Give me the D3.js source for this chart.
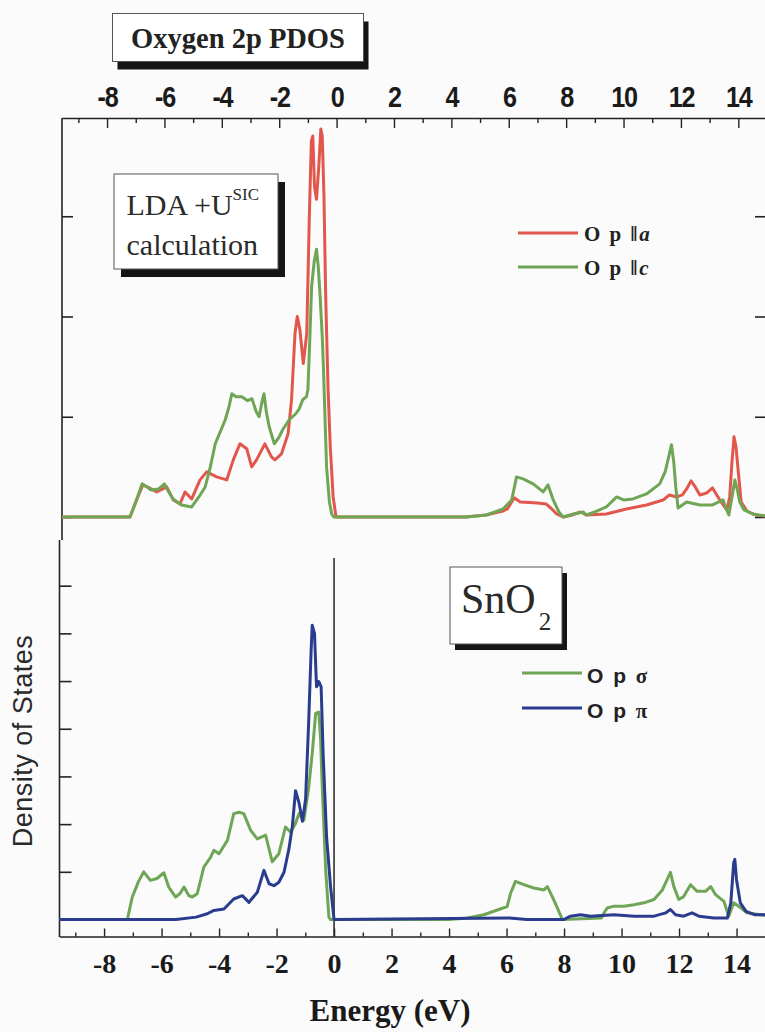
<!DOCTYPE html>
<html>
<head>
<meta charset="utf-8">
<script src="https://cdn.jsdelivr.net/npm/d3@7"></script>
<style>
  html, body { margin: 0; padding: 0; background: #fbfbfc; }
  svg { display: block; }
</style>
</head>
<body>
<svg id="chart" width="765" height="1032"></svg>
<script>
// ---------------- DATA ----------------
// x axis ticks
const xTickValues = d3.range(-9, 16);           // minor every 1 eV
const xTickLabels = [-8, -6, -4, -2, 0, 2, 4, 6, 8, 10, 12, 14];

// Top panel: O p || a (red)
const topA_E   = [-9.7, -7.2, -6.97, -6.75, -6.6, -6.27, -5.92, -5.69, -5.46, -5.28, -5.05, -4.76, -4.53, -4.18, -3.83, -3.6, -3.37, -3.13, -2.96, -2.79, -2.5, -2.27, -2.15, -1.92, -1.69, -1.57, -1.45, -1.37, -1.28, -1.16, -1.04, -0.95, -0.88, -0.83, -0.77, -0.7, -0.62, -0.55, -0.5, -0.44, -0.38, -0.3, -0.22, -0.12, -0.02, 4.5, 5.2, 5.8, 5.95, 6.1, 6.2, 6.4, 7.0, 7.3, 7.5, 7.67, 7.9, 8.2, 8.5, 8.7, 9.4, 10.1, 10.8, 11.38, 11.6, 11.85, 12.05, 12.2, 12.35, 12.5, 12.66, 12.9, 13.1, 13.25, 13.4, 13.6, 13.7, 13.78, 13.85, 13.92, 14.0, 14.1, 14.3, 14.6, 15.2];
const topA_dos = [0, 0, 0.17, 0.32, 0.30, 0.25, 0.30, 0.17, 0.13, 0.25, 0.18, 0.37, 0.45, 0.40, 0.37, 0.57, 0.73, 0.68, 0.50, 0.57, 0.73, 0.60, 0.57, 0.63, 0.83, 1.17, 1.83, 2.0, 1.87, 1.53, 1.83, 3.0, 3.75, 3.8, 3.3, 3.17, 3.5, 3.87, 3.8, 3.2, 2.2, 1.3, 0.7, 0.2, 0, 0, 0.02, 0.06, 0.08, 0.15, 0.19, 0.15, 0.14, 0.13, 0.08, 0.03, 0, 0.02, 0.05, 0.02, 0.03, 0.08, 0.12, 0.17, 0.22, 0.20, 0.22, 0.28, 0.36, 0.30, 0.22, 0.24, 0.29, 0.22, 0.15, 0.07, 0.2, 0.55, 0.8, 0.7, 0.45, 0.15, 0.06, 0.02, 0];

// Top panel: O p || c (green)
const topC_E   = [-9.7, -7.2, -7.0, -6.78, -6.6, -6.48, -6.2, -6.0, -5.85, -5.7, -5.4, -5.05, -4.8, -4.58, -4.4, -4.23, -3.88, -3.75, -3.65, -3.5, -3.3, -3.1, -2.95, -2.8, -2.7, -2.6, -2.53, -2.45, -2.35, -2.17, -2.0, -1.88, -1.65, -1.42, -1.3, -1.18, -1.05, -1.0, -0.93, -0.87, -0.78, -0.7, -0.64, -0.58, -0.5, -0.46, -0.35, -0.25, -0.17, -0.1, 4.5, 5.23, 5.8, 6.1, 6.2, 6.27, 6.5, 6.85, 7.2, 7.37, 7.55, 7.75, 7.9, 8.25, 8.6, 8.7, 9.0, 9.4, 9.76, 10.0, 10.33, 10.8, 11.26, 11.45, 11.55, 11.67, 11.75, 11.82, 11.9, 12.2, 12.66, 13.1, 13.47, 13.58, 13.67, 13.78, 13.88, 13.96, 14.05, 14.2, 14.5, 15.2];
const topC_dos = [0, 0, 0.15, 0.33, 0.30, 0.27, 0.28, 0.33, 0.25, 0.18, 0.12, 0.10, 0.20, 0.30, 0.50, 0.73, 0.97, 1.10, 1.23, 1.20, 1.20, 1.16, 1.18, 1.05, 1.0, 1.15, 1.23, 1.05, 0.90, 0.73, 0.80, 0.87, 0.97, 1.03, 1.08, 1.17, 1.20, 1.27, 1.8, 2.3, 2.55, 2.67, 2.5, 2.23, 1.8, 1.5, 0.5, 0.15, 0.03, 0, 0, 0.02, 0.08, 0.17, 0.30, 0.40, 0.38, 0.33, 0.25, 0.32, 0.17, 0.05, 0, 0.03, 0.05, 0.02, 0.05, 0.10, 0.20, 0.17, 0.18, 0.23, 0.33, 0.45, 0.57, 0.72, 0.55, 0.30, 0.09, 0.15, 0.12, 0.12, 0.17, 0.08, 0.02, 0.2, 0.37, 0.28, 0.15, 0.07, 0.03, 0];

// Bottom panel: O p sigma (green)
const botSigma_E   = [-9.7, -7.19, -7.02, -6.8, -6.62, -6.39, -6.16, -5.92, -5.75, -5.51, -5.35, -5.22, -5.05, -4.93, -4.76, -4.53, -4.3, -4.18, -4.0, -3.71, -3.49, -3.3, -3.14, -2.9, -2.67, -2.38, -2.15, -1.92, -1.69, -1.51, -1.35, -1.22, -1.05, -0.88, -0.76, -0.64, -0.53, -0.47, -0.41, -0.29, -0.18, -0.12, 4.0, 4.63, 5.21, 5.68, 6.02, 6.14, 6.31, 6.6, 6.95, 7.3, 7.42, 7.59, 7.77, 7.94, 9.3, 9.4, 9.5, 9.74, 10.08, 10.43, 10.78, 11.13, 11.42, 11.7, 11.82, 11.99, 12.16, 12.4, 12.63, 12.92, 13.1, 13.27, 13.56, 13.73, 13.9, 14.07, 14.36, 15.2];
const botSigma_dos = [0, 0, 0.47, 0.80, 1.0, 0.82, 0.86, 0.98, 0.68, 0.47, 0.55, 0.68, 0.50, 0.47, 0.54, 1.10, 1.30, 1.45, 1.38, 1.66, 2.22, 2.25, 2.22, 1.87, 1.69, 1.77, 1.21, 1.38, 1.94, 1.83, 2.0, 2.22, 2.08, 2.78, 3.48, 4.32, 4.35, 3.8, 2.78, 1.03, 0.05, 0, 0, 0.03, 0.10, 0.20, 0.27, 0.55, 0.80, 0.73, 0.66, 0.62, 0.69, 0.48, 0.24, 0, 0.03, 0.15, 0.24, 0.28, 0.28, 0.31, 0.35, 0.42, 0.62, 0.99, 0.69, 0.42, 0.48, 0.73, 0.59, 0.59, 0.69, 0.52, 0.38, 0.07, 0.35, 0.28, 0.14, 0.07];

// Bottom panel: O p pi (blue)
const botPi_E   = [-9.7, -5.9, -5.5, -4.8, -4.41, -4.18, -3.83, -3.49, -3.19, -2.96, -2.67, -2.44, -2.26, -2.09, -1.92, -1.74, -1.57, -1.45, -1.34, -1.22, -1.1, -0.99, -0.88, -0.8, -0.76, -0.68, -0.61, -0.53, -0.45, -0.38, -0.26, -0.12, 0, 6.1, 6.7, 8.0, 8.22, 8.57, 8.92, 9.74, 10.43, 11.13, 11.54, 11.7, 11.88, 12.16, 12.45, 12.69, 13.21, 13.68, 13.8, 13.9, 13.94, 14.0, 14.13, 14.33, 14.62, 15.2];
const botPi_dos = [0, 0, 0, 0.05, 0.12, 0.19, 0.22, 0.43, 0.50, 0.36, 0.57, 1.03, 0.75, 0.71, 0.78, 0.99, 1.48, 1.96, 2.70, 2.45, 2.06, 2.52, 4.19, 5.6, 6.17, 6.0, 4.88, 4.99, 4.88, 3.48, 1.73, 0.68, 0, 0.03, 0, 0, 0.07, 0.10, 0.07, 0.10, 0.07, 0.07, 0.14, 0.21, 0.10, 0.07, 0.14, 0.07, 0.03, 0.03, 0.35, 1.19, 1.26, 0.83, 0.35, 0.17, 0.10, 0.10];

const topYTicks = [0, 1, 2, 3];
const botYTicks = [0, 1, 2, 3, 4, 5, 6, 7];

const colRed = "#e2574b", colGreen = "#6fa655", colBlue = "#2a3c8e";

// ---------------- DRAW ----------------
const svg = d3.select("#chart");
svg.append("rect").attr("width", 765).attr("height", 1032).attr("fill", "#fbfbfc");

const zip = (E, V) => E.map((e, i) => ({ e, v: V[i] }));

// scales
const xTop = d3.scaleLinear().domain([-9.57, 15]).range([62, 767]);
const yTop = d3.scaleLinear().domain([0, 4]).range([517, 116]);
const xBot = d3.scaleLinear().domain([-9.55, 15]).range([59.5, 765.3]);
const yBot = d3.scaleLinear().domain([0, 8]).range([919.5, 538]);

// clip paths
const defs = svg.append("defs");
defs.append("clipPath").attr("id", "clipTop").append("rect")
  .attr("x", xTop.range()[0]).attr("y", 118).attr("width", xTop.range()[1] - xTop.range()[0]).attr("height", 405);
defs.append("clipPath").attr("id", "clipBot").append("rect")
  .attr("x", xBot.range()[0]).attr("y", 522).attr("width", xBot.range()[1] - xBot.range()[0]).attr("height", 414);

const frameColor = "#222";

// ---- Title box
function shadowBox(x, y, w, h, dx, dy) {
  svg.append("rect").attr("x", x + dx).attr("y", y + dy).attr("width", w).attr("height", h).attr("fill", "#151515");
  svg.append("rect").attr("x", x).attr("y", y).attr("width", w).attr("height", h)
    .attr("fill", "#fff").attr("stroke", "#555").attr("stroke-width", 1);
}
shadowBox(112.5, 13.5, 251, 48, 5, 8);
svg.append("text").attr("x", 238).attr("y", 48).attr("text-anchor", "middle")
  .attr("font-family", "'Liberation Serif', 'Times New Roman', serif").attr("font-weight", "bold")
  .attr("font-size", 28.5).attr("fill", "#222").text("Oxygen 2p PDOS");

// ---- Top panel frame
const gTopAxis = svg.append("g").attr("transform", "translate(0,118)")
  .call(d3.axisTop(xTop).tickValues(xTickValues).tickSizeInner(-10).tickSizeOuter(0).tickPadding(11)
    .tickFormat(d => xTickLabels.includes(d) ? String(d) : ""));
gTopAxis.select(".domain").attr("stroke", frameColor).attr("stroke-width", 1.6);
gTopAxis.selectAll(".tick line").attr("stroke", frameColor).attr("stroke-width", 1.4)
  .attr("y2", d => (d % 2 === 0 ? 10 : 5));
gTopAxis.selectAll(".tick text")
  .attr("font-family", "'Liberation Sans', Arial, sans-serif").attr("font-weight", "bold")
  .attr("font-size", 30).attr("letter-spacing", -1.5).attr("fill", "#1a1a1a")
  .attr("transform", "scale(0.84,1)");

// left frame line top panel
svg.append("line").attr("x1", xTop.range()[0]).attr("x2", xTop.range()[0])
  .attr("y1", 118).attr("y2", 540).attr("stroke", frameColor).attr("stroke-width", 1.6);
// right frame line top panel
svg.append("line").attr("x1", xTop.range()[1] - 1).attr("x2", xTop.range()[1] - 1)
  .attr("y1", 118).attr("y2", 520).attr("stroke", frameColor).attr("stroke-width", 1.6);

const gTopLeft = svg.append("g").attr("transform", `translate(${xTop.range()[0]},0)`)
  .call(d3.axisLeft(yTop).tickValues(topYTicks).tickSize(-11).tickFormat(""));
gTopLeft.select(".domain").remove();
gTopLeft.selectAll(".tick line").attr("stroke", frameColor).attr("stroke-width", 1.6);

const gTopRight = svg.append("g").attr("transform", `translate(${xTop.range()[1] - 1},0)`)
  .call(d3.axisRight(yTop).tickValues(topYTicks).tickSize(-11).tickFormat(""));
gTopRight.select(".domain").remove();
gTopRight.selectAll(".tick line").attr("stroke", frameColor).attr("stroke-width", 1.6);

// top curves
const lineTop = d3.line().x(d => xTop(d.e)).y(d => yTop(d.v));
const gTopCurves = svg.append("g").attr("clip-path", "url(#clipTop)");
gTopCurves.append("path").datum(zip(topA_E, topA_dos)).attr("d", lineTop)
  .attr("fill", "none").attr("stroke", colRed).attr("stroke-width", 3).attr("stroke-linejoin", "round");
gTopCurves.append("path").datum(zip(topC_E, topC_dos)).attr("d", lineTop)
  .attr("fill", "none").attr("stroke", colGreen).attr("stroke-width", 3).attr("stroke-linejoin", "round");

// LDA box
shadowBox(114, 174, 164, 95, 7, 8);
const ldaText = svg.append("text").attr("x", 126.5).attr("y", 215)
  .attr("font-family", "'Liberation Serif', 'Times New Roman', serif").attr("font-size", 30).attr("fill", "#2a2a2a");
ldaText.append("tspan").text("LDA +U");
ldaText.append("tspan").attr("font-size", 17).attr("dy", -15).text("SIC");
svg.append("text").attr("x", 126.5).attr("y", 255)
  .attr("font-family", "'Liberation Serif', 'Times New Roman', serif").attr("font-size", 30).attr("fill", "#2a2a2a")
  .text("calculation");

// top legend
const topLegend = [
  { label: "O p ‖", it: "a", color: colRed, y: 233 },
  { label: "O p ‖", it: "c", color: colGreen, y: 267 }
];
topLegend.forEach(L => {
  svg.append("line").attr("x1", 518).attr("x2", 578).attr("y1", L.y).attr("y2", L.y)
    .attr("stroke", L.color).attr("stroke-width", 3);
  const t = svg.append("text").attr("x", 584).attr("y", L.y + 8)
    .attr("font-family", "'Liberation Serif', 'Times New Roman', serif").attr("font-weight", "bold")
    .attr("font-size", 21).attr("letter-spacing", 2).attr("fill", "#222");
  t.append("tspan").text(L.label);
  t.append("tspan").attr("font-style", "italic").text(L.it);
});

// ---- Bottom panel
svg.append("line").attr("x1", xBot.range()[0]).attr("x2", xBot.range()[0])
  .attr("y1", 540).attr("y2", 937).attr("stroke", frameColor).attr("stroke-width", 1.6);

const gBotLeft = svg.append("g").attr("transform", `translate(${xBot.range()[0]},0)`)
  .call(d3.axisLeft(yBot).tickValues(botYTicks).tickSize(-12).tickFormat(""));
gBotLeft.select(".domain").remove();
gBotLeft.selectAll(".tick line").attr("stroke", frameColor).attr("stroke-width", 1.6);

const gBotAxis = svg.append("g").attr("transform", "translate(0,936.5)")
  .call(d3.axisBottom(xBot).tickValues(xTickValues).tickSizeInner(-8).tickSizeOuter(0).tickPadding(17)
    .tickFormat(d => xTickLabels.includes(d) ? String(d) : ""));
gBotAxis.select(".domain").attr("stroke", frameColor).attr("stroke-width", 1.6);
gBotAxis.selectAll(".tick line").attr("stroke", frameColor).attr("stroke-width", 1.4)
  .attr("y2", d => (d % 2 === 0 ? -8 : -4));
gBotAxis.selectAll(".tick text")
  .attr("font-family", "'Liberation Serif', 'Times New Roman', serif").attr("font-weight", "bold")
  .attr("font-size", 28).attr("fill", "#1a1a1a");

// zero line
svg.append("line").attr("x1", xBot(0)).attr("x2", xBot(0))
  .attr("y1", 558).attr("y2", 936.5).attr("stroke", "#222").attr("stroke-width", 1.5);

// bottom curves
const lineBot = d3.line().x(d => xBot(d.e)).y(d => yBot(d.v));
const gBotCurves = svg.append("g").attr("clip-path", "url(#clipBot)");
gBotCurves.append("path").datum(zip(botSigma_E, botSigma_dos)).attr("d", lineBot)
  .attr("fill", "none").attr("stroke", colGreen).attr("stroke-width", 3).attr("stroke-linejoin", "round");
gBotCurves.append("path").datum(zip(botPi_E, botPi_dos)).attr("d", lineBot)
  .attr("fill", "none").attr("stroke", colBlue).attr("stroke-width", 3).attr("stroke-linejoin", "round");

// SnO2 box
shadowBox(450, 567, 112, 77, 5, 6);
const snText = svg.append("text").attr("x", 461).attr("y", 613)
  .attr("font-family", "'Liberation Serif', 'Times New Roman', serif").attr("font-size", 42).attr("fill", "#2a2a2a");
snText.append("tspan").text("SnO");
snText.append("tspan").attr("font-size", 25).attr("dx", 3).attr("dy", 17).text("2");

// bottom legend
const botLegend = [
  { label: "O p ", sym: "σ", color: colGreen, y: 673 },
  { label: "O p ", sym: "π", color: colBlue, y: 708 }
];
botLegend.forEach(L => {
  svg.append("line").attr("x1", 522).attr("x2", 582).attr("y1", L.y).attr("y2", L.y)
    .attr("stroke", L.color).attr("stroke-width", 3);
  const t = svg.append("text").attr("x", 587).attr("y", L.y + 10)
    .attr("font-family", "'Liberation Sans', Arial, sans-serif").attr("font-weight", "bold")
    .attr("font-size", 21).attr("letter-spacing", 2).attr("fill", "#222");
  t.append("tspan").text(L.label);
  t.append("tspan").attr("font-family", "'Liberation Serif', 'Times New Roman', serif").text(L.sym);
});

// axis titles
svg.append("text").attr("x", 390).attr("y", 1021).attr("text-anchor", "middle")
  .attr("font-family", "'Liberation Serif', 'Times New Roman', serif").attr("font-weight", "bold")
  .attr("font-size", 31).attr("fill", "#1a1a1a").text("Energy (eV)");
svg.append("text").attr("transform", "translate(32,741) rotate(-90)").attr("text-anchor", "middle")
  .attr("font-family", "'Liberation Sans', Arial, sans-serif").attr("font-size", 27)
  .attr("letter-spacing", 0.5).attr("fill", "#2a2a2a").text("Density of States");
</script>
</body>
</html>
